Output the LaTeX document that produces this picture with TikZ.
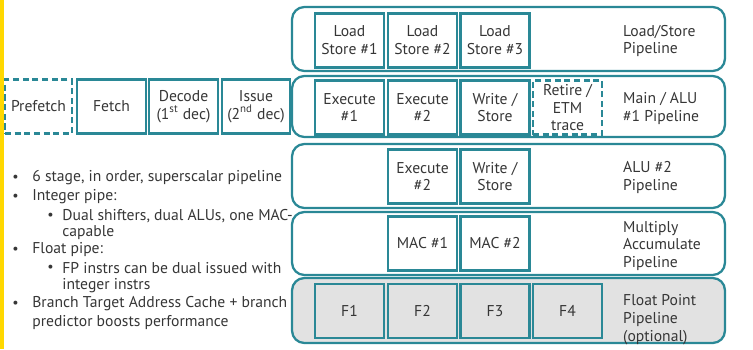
\documentclass[tikz,border=0pt]{standalone}
\usepackage{fontspec}
\setmainfont{PT Sans}
\usetikzlibrary{positioning}
\definecolor{pipeteal}{HTML}{2A8896}
\definecolor{txtgray}{HTML}{363636}
\definecolor{fpgray}{HTML}{E2E2E2}
\definecolor{barYellow}{HTML}{FFD800}

\begin{document}
\begin{tikzpicture}[x=0.02cm, y=-0.02cm,
    font=\fontsize{8.9}{10.2}\selectfont, text=txtgray,
    pipe/.style={draw=pipeteal, line width=1.3pt, rounded corners=7pt,
      minimum width=8.66cm, inner sep=0pt},
    stage/.style={draw=pipeteal, line width=1.3pt, align=center,
      minimum width=1.38cm, minimum height=1.08cm, inner sep=1pt},
    optstage/.style={stage, dashed, dash pattern=on 3.5pt off 2pt},
    plabel/.style={anchor=west, align=left},
    bline/.style={anchor=west, inner sep=0pt}]
    \useasboundingbox (0,0) rectangle (753,349);
    % yellow strip on the left edge
    \fill[barYellow] (0,0) rectangle (3.5,349);
    % pipeline frames
    \node[pipe, minimum height=1.28cm] (lsp) at (508.5,39) {};
    \node[pipe, minimum height=1.22cm] (mainp) at (508.5,106.5) {};
    \node[pipe, minimum height=1.28cm] (alup) at (508.5,176) {};
    \node[pipe, minimum height=1.26cm] (macp) at (508.5,243.5) {};
    \node[pipe, minimum height=1.30cm, fill=fpgray] (fpp) at (508.5,310.5) {};
    % front end
    \node[optstage, minimum width=1.34cm] (pf) at (38.5,106.5) {Prefetch};
    \node[stage] (fe) at (111.5,106.5) {Fetch};
    \node[stage] (de) at (183.5,106.5) {Decode\\(1\textsuperscript{st} dec)};
    \node[stage, minimum width=1.36cm] (is) at (256,106.5) {Issue\\(2\textsuperscript{nd} dec)};
    % load/store pipe
    \foreach \i/\x in {1/349.5, 2/422.5, 3/495}
      \node[stage] (ls\i) at (\x,40.5) {Load\\Store \#\i};
    \node[plabel] (lsl) at (617,41) {Load/Store\\Pipeline};
    % main / alu #1 pipe
    \node[stage] (ex1) at (349.5,107.5) {Execute\\\#1};
    \node[stage] (ex2) at (422.5,107.5) {Execute\\\#2};
    \node[stage] (wr1) at (495,107.5) {Write /\\Store};
    \node[optstage, text depth=0pt] (ret) at (567.5,107.5) {Retire /\\ETM\\trace};
    \node[plabel] (mainl) at (617,108.5) {Main / ALU\\\#1 Pipeline};
    % alu #2 pipe
    \node[stage] (ex2b) at (422.5,176.5) {Execute\\\#2};
    \node[stage] (wr2) at (495,176.5) {Write /\\Store};
    \node[plabel] (alul) at (617,177.5) {ALU \#2\\Pipeline};
    % multiply accumulate pipe
    \foreach \i/\x in {1/422.5, 2/495}
      \node[stage] (mac\i) at (\x,243.5) {MAC \#\i};
    \node[plabel] (macl) at (617,246) {Multiply\\Accumulate\\Pipeline};
    % float pipe
    \foreach \i/\x in {1/349.5, 2/422.5, 3/495, 4/567.5}
      \node[stage, fill=fpgray] (f\i) at (\x,311) {F\i};
    \node[plabel] (fpl) at (617,320) {Float Point\\Pipeline\\(optional)};
    % notes
    \foreach \n/\x/\y/\t in {1/32/178/{6 stage, in order, superscalar pipeline},
        2/32/197/{Integer pipe:},
        3/62/216/{Dual shifters, dual ALUs, one MAC-},
        4/62/233/{capable},
        5/32/250/{Float pipe:},
        6/62/268/{FP instrs can be dual issued with},
        7/62/286/{integer instrs},
        8/32/304/{Branch Target Address Cache + branch},
        9/32/323/{predictor boosts performance}}
      \node[bline] (l\n) at (\x,\y) {\t};
    \foreach \n/\x/\y in {1/12/178, 2/12/197, 3/47/216, 5/12/250, 6/47/268, 8/12/304}
      \node[bline, font=\fontsize{8}{8}\selectfont] (dot\n) at (\x,\y) {\textbullet};
  \end{tikzpicture}
\end{document}
